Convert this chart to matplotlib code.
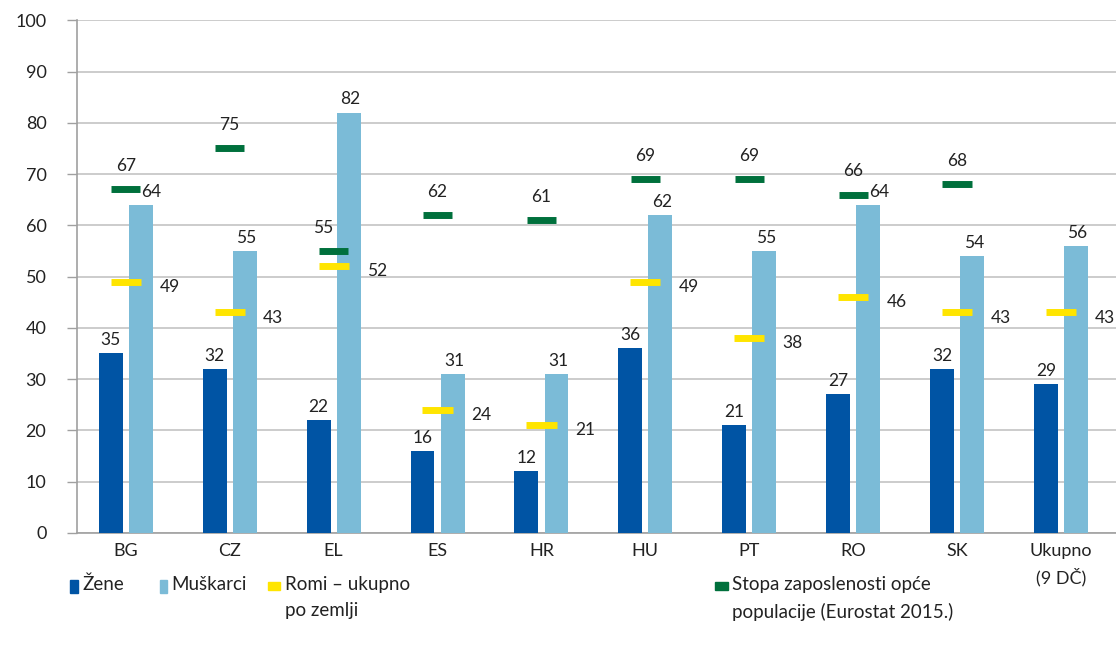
import numpy as np
import matplotlib.pyplot as plt
from matplotlib.patches import Rectangle

# Podaci
zemlje = ["BG", "CZ", "EL", "ES", "HR", "HU", "PT", "RO", "SK", "Ukupno\n(9 DČ)"]
zene = [35, 32, 22, 16, 12, 36, 21, 27, 32, 29]
muskarci = [64, 55, 82, 31, 31, 62, 55, 64, 54, 56]
romi = [49, 43, 52, 24, 21, 49, 38, 46, 43, 43]
eurostat = [67, 75, 55, 62, 61, 69, 69, 66, 68, None]

c_zene = "#0054a4"
c_musk = "#7bbbd7"
c_romi = "#ffe500"
c_euro = "#00703c"
c_txt = "#222222"

plt.rcParams["font.family"] = ["Lato", "DejaVu Sans"]

fig = plt.figure(figsize=(11.16, 6.53), dpi=100)
ax = fig.add_axes([0.069, 0.184, 0.931, 0.785])

x = np.arange(len(zemlje))
w = 0.23
ax.bar(x - 0.145, zene, w, color=c_zene, zorder=3)
ax.bar(x + 0.145, muskarci, w, color=c_musk, zorder=3)

for i in x:
    ax.text(i - 0.145, zene[i] + 1, str(zene[i]), ha="center", va="bottom", fontsize=12.5, color=c_txt)
    e = eurostat[i]
    if e is not None and 0 <= e - muskarci[i] < 5:
        # label bi se preklopio s oznakom, pomakni ga desno
        ax.text(i + 0.15, muskarci[i] + 1, str(muskarci[i]), ha="left", va="bottom", fontsize=12.5,
                color=c_txt, zorder=5)
    else:
        ax.text(i + 0.16, muskarci[i] + 1, str(muskarci[i]), ha="center", va="bottom", fontsize=12.5,
                color=c_txt, zorder=5)
    # Romi ukupno
    ax.hlines(romi[i], i - 0.145, i + 0.145, color=c_romi, lw=5, zorder=4)
    ax.text(i + 0.42, romi[i] - 1, str(romi[i]), ha="center", va="center", fontsize=12.5, color=c_txt)
    # Eurostat
    if e is not None:
        dx = -0.1 if muskarci[i] > e else 0.0
        ax.text(i + dx, e + 3, str(e), ha="center", va="bottom", fontsize=12.5, color=c_txt)
        ax.hlines(e, i - 0.14, i + 0.14, color=c_euro, lw=5, zorder=4)

ax.set_ylim(0, 100)
ax.set_xlim(-0.47, 9.53)
ax.set_yticks(range(0, 101, 10))
ax.set_xticks(x)
ax.set_xticklabels(zemlje, fontsize=13, color=c_txt, linespacing=1.6)
ax.tick_params(axis="y", length=7, width=1, color="#a0a0a0", pad=15, labelsize=13, labelcolor=c_txt)
ax.tick_params(axis="x", length=0, pad=7)
ax.grid(axis="y", color="#c4c4c4", lw=1.2, zorder=0)
for s in ["top", "right"]:
    ax.spines[s].set_visible(False)
ax.spines["left"].set_color("#a0a0a0")
ax.spines["bottom"].set_color("#a0a0a0")
ax.spines["left"].set_linewidth(1.2)
ax.spines["bottom"].set_linewidth(1.2)

# Legenda
legenda = [
    (0.063, 0.092, 0.0065, 0.020, c_zene, "Žene"),
    (0.143, 0.092, 0.0065, 0.020, c_musk, "Muškarci"),
    (0.240, 0.097, 0.011, 0.011, c_romi, "Romi – ukupno\npo zemlji"),
    (0.641, 0.097, 0.011, 0.011, c_euro, "Stopa zaposlenosti opće\npopulacije (Eurostat 2015.)"),
]
for lx, ly, lw_, lh, col, lab in legenda:
    fig.add_artist(Rectangle((lx, ly), lw_, lh, transform=fig.transFigure, color=col))
    fig.text(lx + lw_ + 0.004, 0.118, lab, ha="left", va="top", fontsize=13.5, color=c_txt, linespacing=1.65)

fig.savefig("out.png", dpi=100)
